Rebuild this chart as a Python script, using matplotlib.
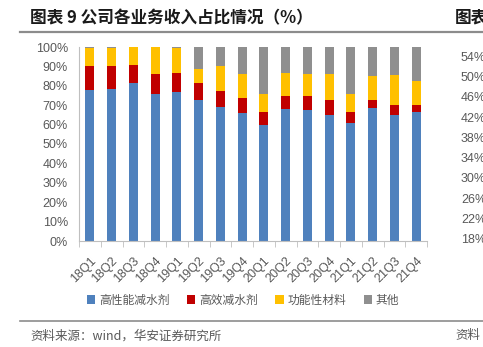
import matplotlib.pyplot as plt
import numpy as np
from matplotlib.lines import Line2D
from matplotlib.ticker import PercentFormatter

plt.rcParams['font.family'] = ['Liberation Sans', 'Noto Sans CJK SC', 'DejaVu Sans']

quarters = ['18Q1', '18Q2', '18Q3', '18Q4', '19Q1', '19Q2', '19Q3', '19Q4',
            '20Q1', '20Q2', '20Q3', '20Q4', '21Q1', '21Q2', '21Q3', '21Q4']
high_perf = [77.9, 78.6, 81.6, 75.9, 76.6, 72.9, 69.0, 66.0, 59.8, 68.1, 67.6, 65.0, 61.0, 68.4, 65.0, 66.6]
high_eff = [12.1, 11.6, 8.9, 10.3, 9.8, 8.8, 8.1, 7.8, 6.9, 6.9, 6.9, 7.8, 5.7, 4.4, 5.2, 3.6]
functional = [9.3, 9.5, 9.5, 13.8, 12.9, 7.1, 12.9, 12.2, 9.0, 11.7, 11.7, 13.4, 9.0, 12.2, 15.3, 12.4]
other = [0.7, 0.3, 0.0, 0.0, 0.7, 11.2, 10.0, 14.0, 24.3, 13.3, 13.8, 13.8, 24.3, 15.0, 14.5, 17.4]
series_names = ['高性能减水剂', '高效减水剂', '功能性材料', '其他']
colors = ['#4F81BD', '#C00000', '#FFC000', '#8F8F8F']
right_ticks = ['54%', '50%', '46%', '42%', '38%', '34%', '30%', '26%', '22%', '18%']

W, H = 483, 347
fig = plt.figure(figsize=(W / 100, H / 100), dpi=100)
ax = fig.add_axes([79 / W, (H - 241) / H, 348 / W, 194 / H])

x = np.arange(len(quarters))
bottom = np.zeros(len(quarters))
for vals, name, c in zip([high_perf, high_eff, functional, other], series_names, colors):
    ax.bar(x, vals, 0.42, bottom=bottom, color=c, label=name, zorder=2)
    bottom += np.array(vals)

ax.set_xlim(-0.5, len(quarters) - 0.5)
ax.set_ylim(0, 100)
ax.set_yticks(np.arange(0, 101, 10))
ax.yaxis.set_major_formatter(PercentFormatter(decimals=0))
ax.set_xticks(x)
ax.set_xticklabels(quarters, rotation=45, ha='right', rotation_mode='anchor')
ax.set_xticks(np.arange(-0.5, len(quarters), 1), minor=True)
ax.tick_params(axis='x', which='major', length=0, pad=10, labelsize=9, labelcolor='#595959')
ax.tick_params(axis='x', which='minor', length=4, color='#BFBFBF')
ax.tick_params(axis='y', length=0, labelsize=9, labelcolor='#595959', pad=8)
for s in ['top', 'right']:
    ax.spines[s].set_visible(False)
ax.spines['left'].set_color('#BFBFBF')
ax.spines['bottom'].set_color('#BFBFBF')

leg = fig.legend(loc='center', bbox_to_anchor=(243 / W, (H - 300) / H), ncol=4,
                 frameon=False, handlelength=0.7, handleheight=0.7, handletextpad=0.3,
                 columnspacing=1.5, prop={'family': 'Noto Sans CJK SC', 'size': 8.5})
for t in leg.get_texts():
    t.set_color('#595959')

# title, rules and source
fig.text(30 / W, (H - 18) / H, '图表 9 公司各业务收入占比情况（%）', fontsize=12, fontweight='bold',
         family='Noto Sans CJK SC', va='center', color='#1a1a1a')
fig.text(455 / W, (H - 18) / H, '图表', fontsize=12, fontweight='bold',
         family='Noto Sans CJK SC', va='center', color='#1a1a1a')
fig.add_artist(Line2D([20 / W, 1], [(H - 32) / H] * 2, color='#8C8C8C', lw=1.6))
fig.add_artist(Line2D([20 / W, 1], [(H - 321) / H] * 2, color='#8C8C8C', lw=1.2))
fig.text(30 / W, (H - 336) / H, '资料来源：wind，华安证券研究所', fontsize=9,
         family=['Noto Sans CJK SC', 'DejaVu Sans'], va='center', color='#595959')
fig.text(455 / W, (H - 336) / H, '资料', fontsize=9,
         family='Noto Sans CJK SC', va='center', color='#595959')

# clipped neighbouring chart's axis labels (cut off in the reference too)
for i, lab in enumerate(right_ticks):
    y = 58 + i * (240 - 58) / 9
    fig.text(461 / W, (H - y) / H, lab, fontsize=9, va='center', color='#595959')

fig.savefig('out.png', dpi=100)
